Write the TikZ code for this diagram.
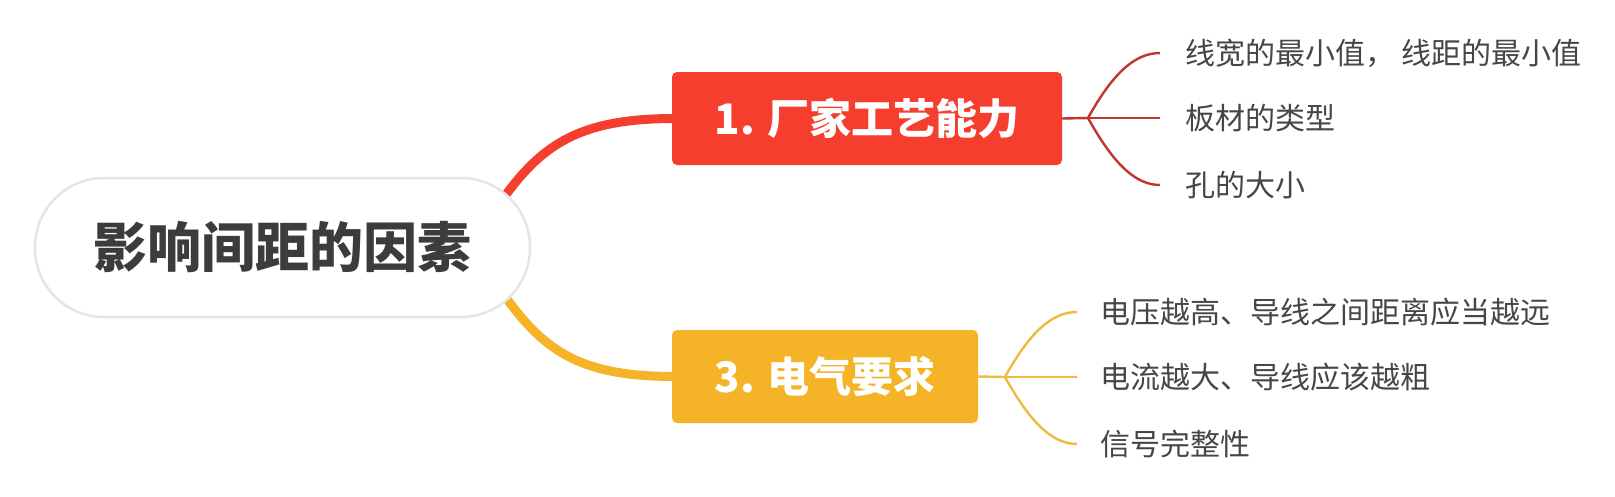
\documentclass[tikz,border=0pt]{standalone}
\usepackage{fontspec}
\setmainfont{Noto Sans CJK SC}
\usetikzlibrary{backgrounds}
\definecolor{redf}{RGB}{245,62,46}
\definecolor{yelf}{RGB}{245,180,40}
\definecolor{redl}{RGB}{192,55,45}
\definecolor{yell}{RGB}{238,186,64}
\definecolor{txt}{RGB}{70,70,70}
\definecolor{roottxt}{RGB}{60,60,60}
\begin{document}
\begin{tikzpicture}[x=1pt,y=-1pt,
  rootbox/.style={rounded corners=69pt, fill=white, draw=black!10, line width=2.5pt,
    minimum width=495pt, minimum height=139pt, inner sep=0pt, text=roottxt,
    font=\bfseries\fontsize{54}{60}\selectfont},
  topic/.style={rounded corners=5pt, text=white, inner sep=0pt, minimum height=93pt,
    font=\bfseries\fontsize{42}{48}\selectfont},
  leaf/.style={anchor=west, inner sep=0pt, text=txt, font=\fontsize{30}{36}\selectfont},
  mainred/.style={draw=redf, line width=9pt},
  mainyel/.style={draw=yelf, line width=9pt},
  thinred/.style={draw=redl, line width=2.4pt},
  thinyel/.style={draw=yell, line width=2.4pt}]
\useasboundingbox (0,0) rectangle (1615,496);

\node[rootbox] (root) at (282.5,247.5) {影响间距的因素};
\node[topic, fill=redf, minimum width=390pt] (t1) at (867,118.5) {1. 厂家工艺能力};
\node[topic, fill=yelf, minimum width=306pt] (t3) at (825,376.5) {3. 电气要求};

\node[leaf] (a1) at (1185,53) {线宽的最小值， 线距的最小值};
\node[leaf] (a2) at (1185,118) {板材的类型};
\node[leaf] (a3) at (1185,185) {孔的大小};
\node[leaf] (b1) at (1100,312) {电压越高、导线之间距离应当越远};
\node[leaf] (b2) at (1100,377) {电流越大、导线应该越粗};
\node[leaf] (b3) at (1100,444) {信号完整性};

\coordinate (s1) at (505,196);
\coordinate (s3) at (507,299);
\coordinate (j1) at (1088,118);
\coordinate (j3) at (1005,377);

\begin{scope}[on background layer]
\fill[white] (0,0) rectangle (1615,496);
\draw[mainred] (s1) .. controls +(40,-55) and +(-90,0) .. ([xshift=3pt]t1.west);
\draw[mainyel] (s3) .. controls +(40,55) and +(-90,0) .. ([xshift=3pt]t3.west);
\end{scope}

\draw[thinred] (t1.east) -- (j1);
\draw[thinred] (j1) .. controls +(25,-45) and +(-25,0) .. ([xshift=-25pt]a1.west);
\draw[thinred] (j1) -- ([xshift=-25pt]a2.west);
\draw[thinred] (j1) .. controls +(25,45) and +(-25,0) .. ([xshift=-25pt]a3.west);

\draw[thinyel] (t3.east) -- (j3);
\draw[thinyel] (j3) .. controls +(25,-45) and +(-25,0) .. ([xshift=-23pt]b1.west);
\draw[thinyel] (j3) -- ([xshift=-23pt]b2.west);
\draw[thinyel] (j3) .. controls +(25,45) and +(-25,0) .. ([xshift=-23pt]b3.west);
\end{tikzpicture}
\end{document}
